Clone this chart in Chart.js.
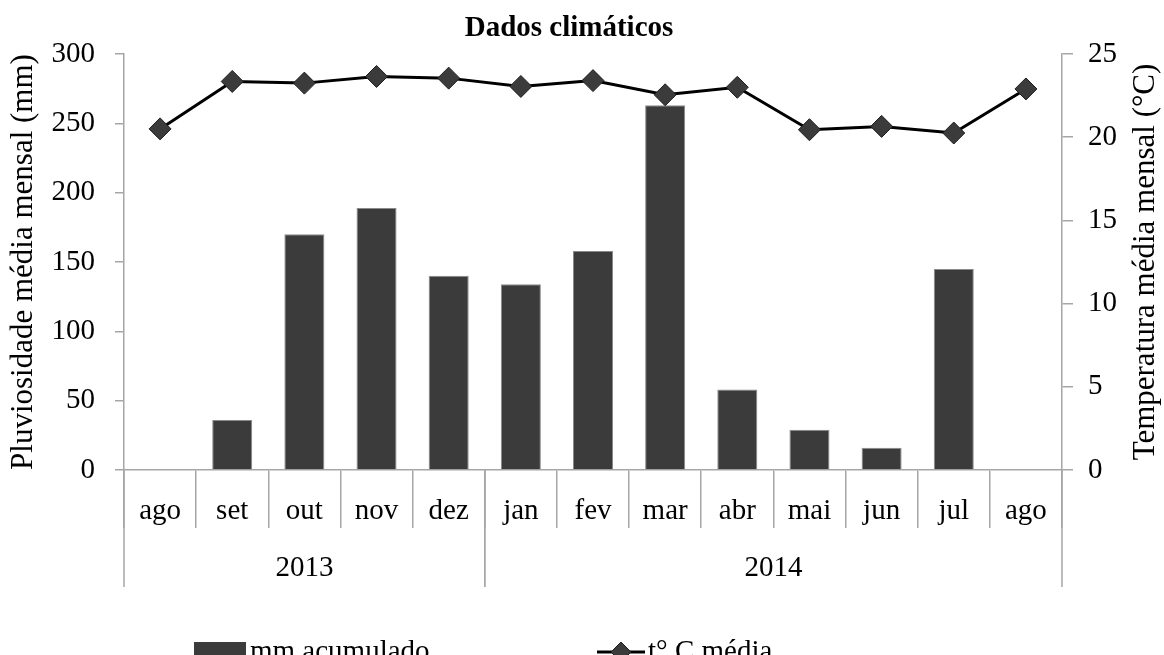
<!DOCTYPE html>
<html lang="pt">
<head>
<meta charset="UTF-8">
<title>Dados climáticos</title>
<script src="https://cdn.jsdelivr.net/npm/chart.js"></script>
<style>
  body { margin: 0; background: #fff; }
  #wrap { width: 1164px; height: 655px; position: relative; }
</style>
</head>
<body>
<div id="wrap"><canvas id="chart"></canvas></div>
<script>
const months = ['ago', 'set', 'out', 'nov', 'dez', 'jan', 'fev', 'mar', 'abr', 'mai', 'jun', 'jul', 'ago'];
const years = ['2013', '2014'];
const yearStart = [0, 5];
const yearCount = [5, 8];
const rain = [0, 36, 170, 189, 140, 134, 158, 263, 58, 29, 16, 145, 0];
const temp = [20.5, 23.35, 23.25, 23.65, 23.55, 23.05, 23.4, 22.55, 23.0, 20.45, 20.65, 20.25, 22.9];

const SERIF = "'Liberation Serif', 'Times New Roman', serif";
const AXIS = '#a6a6a6';
Chart.defaults.font.family = SERIF;
Chart.defaults.color = '#000';

// title, rotated axis titles, year row and legend
const extras = {
  id: 'extras',
  afterDraw(chart) {
    const ctx = chart.ctx;
    const x = chart.scales.x;
    const area = chart.chartArea;
    const w = x.getPixelForValue(1) - x.getPixelForValue(0);
    ctx.save();
    ctx.fillStyle = '#000';
    ctx.textAlign = 'center';
    ctx.textBaseline = 'middle';

    ctx.font = 'bold 29px ' + SERIF;
    ctx.fillText('Dados climáticos', 569, 29);

    ctx.font = '31px ' + SERIF;
    const midY = (area.top + area.bottom) / 2;
    ctx.save();
    ctx.translate(24, midY);
    ctx.rotate(-Math.PI / 2);
    ctx.fillText('Pluviosidade média mensal (mm)', 0, 0);
    ctx.restore();
    ctx.save();
    ctx.translate(1146, midY);
    ctx.rotate(-Math.PI / 2);
    ctx.fillText('Temperatura média mensal (°C)', 0, 0);
    ctx.restore();

    // year group row
    ctx.strokeStyle = AXIS;
    ctx.lineWidth = 1.5;
    ctx.font = '29px ' + SERIF;
    years.forEach((yr, i) => {
      const a = x.getPixelForValue(yearStart[i]) - w / 2;
      const b = x.getPixelForValue(yearStart[i] + yearCount[i] - 1) + w / 2;
      ctx.fillText(yr, (a + b) / 2, 568);
      [a, b].forEach(px => {
        ctx.beginPath();
        ctx.moveTo(px, area.bottom);
        ctx.lineTo(px, 587);
        ctx.stroke();
      });
    });

    // legend
    const ly = 652;
    const bar = chart.data.datasets[0];
    const line = chart.data.datasets[1];
    ctx.textAlign = 'left';
    ctx.fillStyle = bar.backgroundColor;
    ctx.fillRect(194, ly - 10, 52, 20);
    ctx.fillStyle = '#000';
    ctx.fillText(bar.label, 250, ly);
    ctx.strokeStyle = line.borderColor;
    ctx.lineWidth = line.borderWidth;
    ctx.beginPath();
    ctx.moveTo(597, ly);
    ctx.lineTo(645, ly);
    ctx.stroke();
    ctx.fillStyle = line.pointBackgroundColor;
    ctx.strokeStyle = line.pointBorderColor;
    ctx.lineWidth = 1;
    ctx.beginPath();
    ctx.moveTo(621, ly - 10); ctx.lineTo(631, ly); ctx.lineTo(621, ly + 10); ctx.lineTo(611, ly);
    ctx.closePath();
    ctx.fill();
    ctx.stroke();
    ctx.fillStyle = '#000';
    ctx.fillText(line.label, 648, ly);
    ctx.restore();
  }
};

new Chart(document.getElementById('chart'), {
  type: 'bar',
  data: {
    labels: months,
    datasets: [{
      label: 'mm acumulado',
      data: rain,
      yAxisID: 'y',
      order: 1,
      backgroundColor: '#3b3b3b',
      borderColor: '#8a8a8a',
      borderWidth: 1,
      categoryPercentage: 1,
      barPercentage: 0.555
    }, {
      type: 'line',
      label: 't° C média',
      data: temp,
      yAxisID: 'y1',
      order: 0,
      borderColor: '#000',
      borderWidth: 3,
      tension: 0,
      pointStyle: 'rectRot',
      pointRadius: 11,
      pointBackgroundColor: '#3b3b3b',
      pointBorderColor: '#1e1e1e',
      pointBorderWidth: 1,
      clip: false
    }]
  },
  options: {
    responsive: true,
    maintainAspectRatio: false,
    animation: false,
    layout: { padding: { top: 54, left: 0, right: 0, bottom: 0 } },
    plugins: { legend: { display: false }, tooltip: { enabled: false } },
    scales: {
      x: {
        afterFit: s => { s.height = 185; },
        border: { display: true, color: AXIS, width: 1.5 },
        grid: { offset: true, drawOnChartArea: false, drawTicks: true, tickLength: 58, color: AXIS, lineWidth: 1.5 },
        ticks: { font: { size: 29 }, padding: -34, maxRotation: 0, autoSkip: false }
      },
      y: {
        position: 'left',
        min: 0, max: 300,
        afterFit: s => { s.width = 124; },
        border: { display: true, color: AXIS, width: 1.5 },
        grid: { drawOnChartArea: false, tickLength: 9, color: AXIS, lineWidth: 1.5 },
        ticks: { stepSize: 50, font: { size: 29 }, padding: 20 }
      },
      y1: {
        position: 'right',
        min: 0, max: 25,
        afterFit: s => { s.width = 102; },
        border: { display: true, color: AXIS, width: 1.5 },
        grid: { drawOnChartArea: false, tickLength: 11, color: AXIS, lineWidth: 1.5 },
        ticks: { stepSize: 5, font: { size: 29 }, padding: 15 }
      }
    }
  },
  plugins: [extras]
});
</script>
</body>
</html>
